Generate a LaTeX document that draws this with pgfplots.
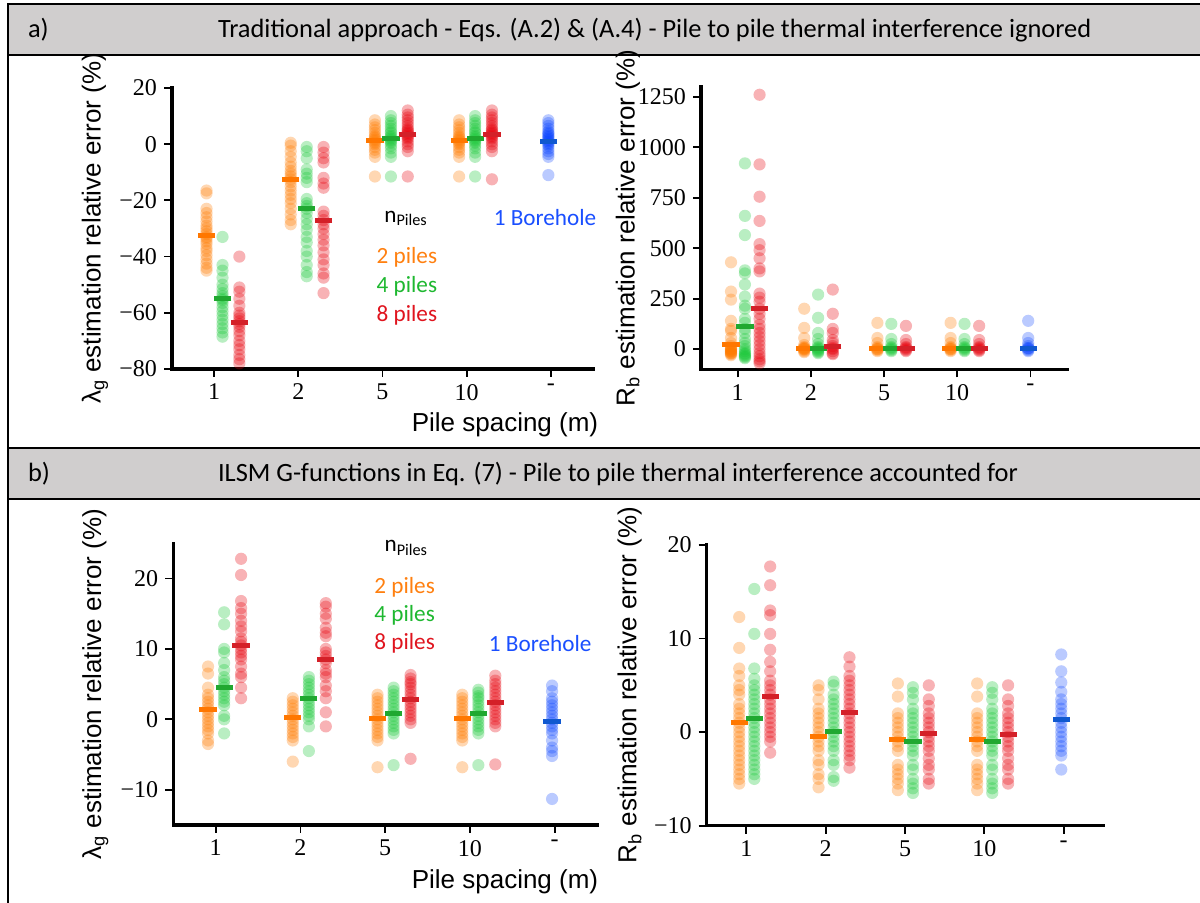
\documentclass[border=0pt]{standalone}
\usepackage{fontspec}
\setmainfont{Liberation Serif}
\setsansfont{Liberation Sans}
\newfontfamily\calib{Carlito}
\usepackage{pgfplots}
\pgfplotsset{compat=1.18}
\definecolor{cO}{HTML}{FF7C00}
\definecolor{cG}{HTML}{1AC938}
\definecolor{cR}{HTML}{E8000B}
\definecolor{cB}{HTML}{023EFF}
\definecolor{dO}{HTML}{FF7700}
\definecolor{dG}{HTML}{20A830}
\definecolor{dR}{HTML}{D42028}
\definecolor{dB}{HTML}{1058D0}
\definecolor{tO}{HTML}{FF8010}
\definecolor{tG}{HTML}{1EB830}
\definecolor{tR}{HTML}{E0141E}
\definecolor{tB}{HTML}{1A4FFF}
\definecolor{hdr}{HTML}{D0CECE}
\pgfplotsset{
  stripax/.style={scale only axis, anchor=south west, clip=false,
    axis x line*=bottom, axis y line*=left,
    axis line style={-, line width=1.6pt, line cap=rect},
    tick align=outside, major tick length=4pt,
    tick style={line width=0.9pt, black},
    xmin=-0.5, xmax=4.5, xtick={0,1,2,3,4}, xticklabels={1,2,5,10,-},
    tick label style={font=\fontsize{12}{14}\selectfont},
    ylabel style={font=\sffamily\fontsize{13}{15}\selectfont, anchor=center},
  },
  pO/.style={only marks, mark=*, mark size=3.05pt, color=cO, mark options={draw opacity=0, line width=0pt, fill=cO, fill opacity=0.3}},
  pG/.style={only marks, mark=*, mark size=3.05pt, color=cG, mark options={draw opacity=0, line width=0pt, fill=cG, fill opacity=0.3}},
  pR/.style={only marks, mark=*, mark size=3.05pt, color=cR, mark options={draw opacity=0, line width=0pt, fill=cR, fill opacity=0.3}},
  pB/.style={only marks, mark=*, mark size=3.05pt, color=cB, mark options={draw opacity=0, line width=0pt, fill=cB, fill opacity=0.27}},
  mO/.style={only marks, mark=-, mark size=4.3pt, color=dO, mark options={line width=2.5pt, draw=dO}},
  mG/.style={only marks, mark=-, mark size=4.3pt, color=dG, mark options={line width=2.5pt, draw=dG}},
  mR/.style={only marks, mark=-, mark size=4.3pt, color=dR, mark options={line width=2.5pt, draw=dR}},
  mB/.style={only marks, mark=-, mark size=4.3pt, color=dB, mark options={line width=2.5pt, draw=dB}},
}
\newcommand{\lbl}{\calib\fontsize{11.6}{13}\selectfont}
\newcommand{\hdrf}{\calib\fontsize{13.2}{15}\selectfont}
\begin{document}
\begin{tikzpicture}
\useasboundingbox (0,0) rectangle (600pt,451.5pt);
\fill[white] (0,0) rectangle (600pt,451.5pt);
\begin{scope}[x=0.5pt, y=-0.5pt, yshift=451.5pt]
  % header a
  \fill[hdr] (8,4) rectangle (1210,55);
  \draw[line width=1pt] (1210,4) -- (8,4) -- (8,55) -- (1210,55);
  \node[anchor=west, font=\hdrf] at (21,30) {a)};
  \node[anchor=west, font=\hdrf] at (211,30) {Traditional approach - Eqs. (A.2) \& (A.4) - Pile to pile thermal interference ignored};
  % header b
  \fill[hdr] (8,448) rectangle (1210,499);
  \draw[line width=1pt] (1210,448) -- (8,448) -- (8,499) -- (1210,499);
  \node[anchor=west, font=\hdrf] at (21,474) {b)};
  \node[anchor=west, font=\hdrf] at (211,474) {ILSM G-functions in Eq. (7) - Pile to pile thermal interference accounted for};
  % left border
  \draw[line width=1pt] (8,4) -- (8,905);
  % x labels
  \node[font=\sffamily\fontsize{13}{15}\selectfont] at (505,425) {Pile spacing (m)};
  \node[font=\sffamily\fontsize{13}{15}\selectfont] at (505,882) {Pile spacing (m)};
\end{scope}

% ---------------- Panel a, left ----------------
\begin{axis}[stripax, at={(86pt,267pt)}, width=210.5pt, height=140.5pt,
  ymin=-80, ymax=20, ytick={-80,-60,-40,-20,0,20},
  yticklabels={−80,−60,−40,−20,0,20},
  ylabel={λ\textsubscript{g} estimation relative error (\%)},
  ylabel style={at={(axis description cs:-0.183,0.5)}}]
\addplot[pO] coordinates {(-0.09,-16.5)(-0.09,-17.5)(-0.09,-23)(-0.09,-24.5)(-0.09,-26)(-0.09,-27.5)(-0.09,-29)(-0.09,-30)(-0.09,-31)(-0.09,-32)(-0.09,-33)(-0.09,-33.5)(-0.09,-34.5)(-0.09,-35.5)(-0.09,-37)(-0.09,-38)(-0.09,-39.5)(-0.09,-41)(-0.09,-42.5)(-0.09,-44)(-0.09,-45)
 (0.91,0.5)(0.91,-0.5)(0.91,-2.5)(0.91,-4.5)(0.91,-6.5)(0.91,-8)(0.91,-9.5)(0.91,-10.5)(0.91,-11.5)(0.91,-12.5)(0.91,-13.5)(0.91,-15)(0.91,-16.5)(0.91,-18)(0.91,-19.5)(0.91,-21)(0.91,-23)(0.91,-25)(0.91,-27)(0.91,-28.5)
 (1.91,8.5)(1.91,7)(1.91,6)(1.91,5)(1.91,4)(1.91,3)(1.91,2.5)(1.91,2)(1.91,1.5)(1.91,1)(1.91,0.5)(1.91,0)(1.91,-1)(1.91,-2)(1.91,-3)(1.91,-4.5)(1.91,-11.5)
 (2.91,8.5)(2.91,7)(2.91,6)(2.91,5)(2.91,4)(2.91,3)(2.91,2.5)(2.91,2)(2.91,1.5)(2.91,1)(2.91,0.5)(2.91,0)(2.91,-1)(2.91,-2)(2.91,-3)(2.91,-4.5)(2.91,-11.5)};
\addplot[pG] coordinates {(0.1,-33)(0.1,-43)(0.1,-45)(0.1,-47.5)(0.1,-50)(0.1,-51.5)(0.1,-53)(0.1,-54)(0.1,-55)(0.1,-55.5)(0.1,-56.5)(0.1,-58)(0.1,-59.5)(0.1,-61)(0.1,-62.5)(0.1,-64)(0.1,-65.5)(0.1,-67)(0.1,-68.5)
 (1.1,-1)(1.1,-2.5)(1.1,-5)(1.1,-9)(1.1,-10.5)(1.1,-12)(1.1,-13.5)(1.1,-19.5)(1.1,-21)(1.1,-22)(1.1,-23)(1.1,-24.5)(1.1,-26.5)(1.1,-28.5)(1.1,-30.5)(1.1,-33)(1.1,-35)(1.1,-38)(1.1,-40)(1.1,-43)(1.1,-45.5)(1.1,-47)
 (2.1,10)(2.1,8.5)(2.1,7.5)(2.1,6.5)(2.1,5.5)(2.1,4.5)(2.1,4)(2.1,3)(2.1,2.5)(2.1,2)(2.1,1.5)(2.1,1)(2.1,0.5)(2.1,-0.5)(2.1,-1.5)(2.1,-3)(2.1,-4.5)(2.1,-11.5)
 (3.1,10)(3.1,8.5)(3.1,7.5)(3.1,6.5)(3.1,5.5)(3.1,4.5)(3.1,4)(3.1,3)(3.1,2.5)(3.1,2)(3.1,1.5)(3.1,1)(3.1,0.5)(3.1,-0.5)(3.1,-1.5)(3.1,-3)(3.1,-4.5)(3.1,-11.5)};
\addplot[pR] coordinates {(0.3,-40)(0.3,-51)(0.3,-52.5)(0.3,-55)(0.3,-57.5)(0.3,-60)(0.3,-61)(0.3,-62)(0.3,-63)(0.3,-64)(0.3,-65)(0.3,-66.5)(0.3,-68)(0.3,-70)(0.3,-71.5)(0.3,-73)(0.3,-75)(0.3,-76.5)(0.3,-78)
 (1.3,-1)(1.3,-3)(1.3,-5)(1.3,-6.5)(1.3,-12)(1.3,-14)(1.3,-15.5)(1.3,-24)(1.3,-25.5)(1.3,-27)(1.3,-28.5)(1.3,-30)(1.3,-32)(1.3,-34)(1.3,-36)(1.3,-38.5)(1.3,-41)(1.3,-43)(1.3,-46)(1.3,-47.5)(1.3,-53)
 (2.3,12)(2.3,10.5)(2.3,9.5)(2.3,8.5)(2.3,7.5)(2.3,6.5)(2.3,5.5)(2.3,5)(2.3,4.5)(2.3,4)(2.3,3.5)(2.3,3)(2.3,2.5)(2.3,2)(2.3,1)(2.3,0)(2.3,-1)(2.3,-2.5)(2.3,-11.5)
 (3.3,12)(3.3,10.5)(3.3,9.5)(3.3,8.5)(3.3,7.5)(3.3,6.5)(3.3,5.5)(3.3,5)(3.3,4.5)(3.3,4)(3.3,3.5)(3.3,3)(3.3,2.5)(3.3,2)(3.3,1)(3.3,0)(3.3,-1)(3.3,-2.5)(3.3,-12.5)};
\addplot[pB] coordinates {(3.97,8.5)(3.97,7.5)(3.97,6.5)(3.97,5.5)(3.97,4.5)(3.97,4)(3.97,3.5)(3.97,3)(3.97,2.5)(3.97,2)(3.97,1.5)(3.97,1)(3.97,0.5)(3.97,0)(3.97,-0.5)(3.97,-1.5)(3.97,-2.5)(3.97,-3.5)(3.97,-4.5)(3.97,-11)};
\addplot[mO] coordinates {(-0.09,-32.5)(0.91,-12.5)(1.91,1.2)(2.91,1.2)};
\addplot[mG] coordinates {(0.1,-55)(1.1,-23)(2.1,1.9)(3.1,2)};
\addplot[mR] coordinates {(0.3,-63.5)(1.3,-27)(2.3,3.5)(3.3,3.5)};
\addplot[mB] coordinates {(3.97,1.1)};
\node[font=\lbl] at (axis cs:2.28,-26.4) {n\textsubscript{Piles}};
\node[font=\lbl, text=tO] at (axis cs:2.29,-40.4) {2 piles};
\node[font=\lbl, text=tG] at (axis cs:2.29,-50.5) {4 piles};
\node[font=\lbl, text=tR] at (axis cs:2.29,-60.8) {8 piles};
\node[font=\lbl, text=tB] at (axis cs:3.93,-26.2) {1 Borehole};
\end{axis}

% ---------------- Panel a, right ----------------
\begin{axis}[stripax, at={(350.5pt,266.85pt)}, width=183pt, height=141.3pt,
  ymin=-100, ymax=1300, ytick={0,250,500,750,1000,1250},
  yticklabels={0,250,500,750,1000,1250},
  ylabel={R\textsubscript{b} estimation relative error (\%)},
  ylabel style={at={(axis description cs:-0.2,0.5)}}]
\addplot[pO] coordinates {(-0.09,430)(-0.09,285)(-0.09,245)(-0.09,140)(-0.09,100)(-0.09,90)(-0.09,55)(-0.09,30)(-0.09,15)(-0.09,5)(-0.09,0)(-0.09,-5)(-0.09,-10)(-0.09,-15)(-0.09,-20)(-0.09,-25)(-0.09,-30)(-0.09,-10)(-0.09,0)(-0.09,-20)
 (0.91,200)(0.91,105)(0.91,55)(0.91,20)(0.91,10)(0.91,5)(0.91,0)(0.91,0)(0.91,-5)(0.91,-10)(0.91,-15)(0.91,5)
 (1.91,130)(1.91,55)(1.91,30)(1.91,10)(1.91,5)(1.91,0)(1.91,-5)(1.91,-10)(1.91,0)
 (2.91,130)(2.91,55)(2.91,30)(2.91,10)(2.91,5)(2.91,0)(2.91,-5)(2.91,-10)(2.91,0)};
\addplot[pG] coordinates {(0.1,920)(0.1,660)(0.1,565)(0.1,390)(0.1,375)(0.1,320)(0.1,260)(0.1,215)(0.1,200)(0.1,150)(0.1,130)(0.1,100)(0.1,80)(0.1,50)(0.1,30)(0.1,15)(0.1,0)(0.1,-10)(0.1,-20)(0.1,-25)(0.1,-30)(0.1,-35)(0.1,-40)(0.1,-45)
 (1.1,270)(1.1,155)(1.1,80)(1.1,50)(1.1,25)(1.1,10)(1.1,5)(1.1,0)(1.1,-5)(1.1,-10)(1.1,-15)(1.1,-20)
 (2.1,125)(2.1,50)(2.1,25)(2.1,10)(2.1,5)(2.1,0)(2.1,-5)(2.1,-10)
 (3.1,125)(3.1,50)(3.1,25)(3.1,10)(3.1,5)(3.1,0)(3.1,-5)(3.1,-10)};
\addplot[pR] coordinates {(0.3,1260)(0.3,915)(0.3,755)(0.3,635)(0.3,520)(0.3,490)(0.3,450)(0.3,400)(0.3,385)(0.3,275)(0.3,255)(0.3,235)(0.3,200)(0.3,175)(0.3,150)(0.3,120)(0.3,100)(0.3,80)(0.3,60)(0.3,40)(0.3,20)(0.3,0)(0.3,-20)(0.3,-35)(0.3,-50)(0.3,-60)(0.3,-70)
 (1.3,295)(1.3,175)(1.3,100)(1.3,80)(1.3,45)(1.3,30)(1.3,15)(1.3,5)(1.3,0)(1.3,-10)(1.3,-20)(1.3,-25)
 (2.3,115)(2.3,45)(2.3,25)(2.3,10)(2.3,5)(2.3,0)(2.3,-5)(2.3,-10)
 (3.3,115)(3.3,45)(3.3,25)(3.3,10)(3.3,5)(3.3,0)(3.3,-5)(3.3,-10)};
\addplot[pB] coordinates {(3.97,140)(3.97,55)(3.97,30)(3.97,15)(3.97,5)(3.97,0)(3.97,-5)(3.97,-10)(3.97,5)};
\addplot[mO] coordinates {(-0.09,25)(0.91,3)(1.91,3)(2.91,3)};
\addplot[mG] coordinates {(0.1,110)(1.1,3)(2.1,3)(3.1,3)};
\addplot[mR] coordinates {(0.3,200)(1.3,12)(2.3,3)(3.3,3)};
\addplot[mB] coordinates {(3.97,5)};
\end{axis}

% ---------------- Panel b, left ----------------
\begin{axis}[stripax, at={(86.65pt,39pt)}, width=211.85pt, height=140.85pt,
  ymin=-15, ymax=25, ytick={-10,0,10,20},
  yticklabels={−10,0,10,20},
  ylabel={λ\textsubscript{g} estimation relative error (\%)},
  ylabel style={at={(axis description cs:-0.184,0.5)}}]
\addplot[pO] coordinates {(-0.09,7.5)(-0.09,6.5)(-0.09,4.5)(-0.09,3.5)(-0.09,3)(-0.09,2.5)(-0.09,2)(-0.09,1.5)(-0.09,1)(-0.09,0.5)(-0.09,0)(-0.09,-0.5)(-0.09,-1)(-0.09,-1.5)(-0.09,-2)(-0.09,-3)(-0.09,-3.5)
 (0.91,3)(0.91,2.5)(0.91,2)(0.91,1.5)(0.91,1)(0.91,0.5)(0.91,0)(0.91,-0.5)(0.91,-1)(0.91,-1.5)(0.91,-2)(0.91,-2.5)(0.91,-3)(0.91,-6)
 (1.91,3.5)(1.91,3)(1.91,2.5)(1.91,2)(1.91,1.5)(1.91,1)(1.91,0.5)(1.91,0)(1.91,-0.5)(1.91,-1)(1.91,-1.5)(1.91,-2)(1.91,-2.5)(1.91,-3)(1.91,-6.8)
 (2.91,3.5)(2.91,3)(2.91,2.5)(2.91,2)(2.91,1.5)(2.91,1)(2.91,0.5)(2.91,0)(2.91,-0.5)(2.91,-1)(2.91,-1.5)(2.91,-2)(2.91,-2.5)(2.91,-3)(2.91,-6.8)};
\addplot[pG] coordinates {(0.1,15.2)(0.1,13.5)(0.1,10)(0.1,9.5)(0.1,8)(0.1,7)(0.1,6)(0.1,5.5)(0.1,5)(0.1,4.5)(0.1,4)(0.1,3.5)(0.1,3)(0.1,2.5)(0.1,2)(0.1,0.5)(0.1,0)(0.1,-2)
 (1.1,6)(1.1,5.5)(1.1,5)(1.1,4.5)(1.1,4)(1.1,3.5)(1.1,3)(1.1,2.5)(1.1,2)(1.1,1.5)(1.1,1)(1.1,0.5)(1.1,0)(1.1,-1)(1.1,-4.5)
 (2.1,4.5)(2.1,4)(2.1,3.5)(2.1,3)(2.1,2.5)(2.1,2)(2.1,1.5)(2.1,1)(2.1,0.5)(2.1,0)(2.1,-0.5)(2.1,-1)(2.1,-1.5)(2.1,-2)(2.1,-6.5)
 (3.1,4.2)(3.1,3.8)(3.1,3.3)(3.1,3)(3.1,2.5)(3.1,2)(3.1,1.5)(3.1,1)(3.1,0.5)(3.1,0)(3.1,-0.5)(3.1,-1)(3.1,-1.5)(3.1,-2)(3.1,-6.5)};
\addplot[pR] coordinates {(0.3,22.8)(0.3,20.5)(0.3,16.8)(0.3,15.8)(0.3,15)(0.3,14)(0.3,13.2)(0.3,12.5)(0.3,11.5)(0.3,11)(0.3,10.5)(0.3,10)(0.3,9.5)(0.3,9)(0.3,8.5)(0.3,7.5)(0.3,6.5)(0.3,6)(0.3,4.5)(0.3,3)
 (1.3,16.5)(1.3,16)(1.3,15)(1.3,14.3)(1.3,13)(1.3,12.3)(1.3,11.8)(1.3,10)(1.3,9.5)(1.3,9)(1.3,8.5)(1.3,8)(1.3,7)(1.3,6.5)(1.3,6)(1.3,4.8)(1.3,4)(1.3,3)(1.3,1)(1.3,-1)
 (2.3,6.3)(2.3,5.8)(2.3,5.3)(2.3,5)(2.3,4.5)(2.3,4)(2.3,3.5)(2.3,3)(2.3,2.5)(2.3,2)(2.3,1.5)(2.3,1)(2.3,0.5)(2.3,0)(2.3,-0.5)(2.3,-5.6)
 (3.3,6.2)(3.3,5.5)(3.3,5)(3.3,4.5)(3.3,4)(3.3,3.5)(3.3,3)(3.3,2.5)(3.3,2)(3.3,1.5)(3.3,1)(3.3,0.5)(3.3,0)(3.3,-0.5)(3.3,-1)(3.3,-6.4)};
\addplot[pB] coordinates {(3.97,4.8)(3.97,4)(3.97,3)(3.97,2.5)(3.97,2)(3.97,1.5)(3.97,1)(3.97,0.5)(3.97,0)(3.97,-0.5)(3.97,-1)(3.97,-1.5)(3.97,-2)(3.97,-3)(3.97,-4)(3.97,-4.5)(3.97,-5.2)(3.97,-11.3)};
\addplot[mO] coordinates {(-0.09,1.4)(0.91,0.2)(1.91,0.1)(2.91,0.1)};
\addplot[mG] coordinates {(0.1,4.5)(1.1,2.9)(2.1,0.9)(3.1,0.8)};
\addplot[mR] coordinates {(0.3,10.5)(1.3,8.5)(2.3,2.8)(3.3,2.4)};
\addplot[mB] coordinates {(3.97,-0.3)};
\node[font=\lbl] at (axis cs:2.25,24.3) {n\textsubscript{Piles}};
\node[font=\lbl, text=tO] at (axis cs:2.23,18.8) {2 piles};
\node[font=\lbl, text=tG] at (axis cs:2.23,14.8) {4 piles};
\node[font=\lbl, text=tR] at (axis cs:2.23,10.8) {8 piles};
\node[font=\lbl, text=tB] at (axis cs:3.83,10.7) {1 Borehole};
\end{axis}

% ---------------- Panel b, right ----------------
\begin{axis}[stripax, at={(353.35pt,38.65pt)}, width=198.3pt, height=140.35pt,
  ymin=-10, ymax=20, ytick={-10,0,10,20},
  yticklabels={−10,0,10,20},
  ylabel={R\textsubscript{b} estimation relative error (\%)},
  ylabel style={at={(axis description cs:-0.194,0.5)}}]
\addplot[pO] coordinates {(-0.09,12.3)(-0.09,9)(-0.09,6.8)(-0.09,6)(-0.09,5)(-0.09,4.5)(-0.09,4)(-0.09,3)(-0.09,2.5)(-0.09,2)(-0.09,1.5)(-0.09,1)(-0.09,0.5)(-0.09,0)(-0.09,-0.5)(-0.09,-1)(-0.09,-1.5)(-0.09,-2)(-0.09,-2.5)(-0.09,-3)(-0.09,-3.5)(-0.09,-4)(-0.09,-4.5)(-0.09,-5)(-0.09,-5.5)
 (0.91,5)(0.91,4.5)(0.91,3.5)(0.91,2.5)(0.91,2)(0.91,1.5)(0.91,1)(0.91,0.5)(0.91,0)(0.91,-0.5)(0.91,-1)(0.91,-1.5)(0.91,-2)(0.91,-3)(0.91,-3.5)(0.91,-4.5)(0.91,-5)(0.91,-5.9)
 (1.91,5.2)(1.91,3.8)(1.91,2)(1.91,1.5)(1.91,1)(1.91,0.5)(1.91,0)(1.91,-0.5)(1.91,-1)(1.91,-1.5)(1.91,-2)(1.91,-3.5)(1.91,-4)(1.91,-4.5)(1.91,-5)(1.91,-5.5)(1.91,-6.2)
 (2.91,5.2)(2.91,3.8)(2.91,2)(2.91,1.5)(2.91,1)(2.91,0.5)(2.91,0)(2.91,-0.5)(2.91,-1)(2.91,-1.5)(2.91,-2)(2.91,-3.5)(2.91,-4)(2.91,-4.5)(2.91,-5)(2.91,-5.5)(2.91,-6.2)};
\addplot[pG] coordinates {(0.1,15.3)(0.1,10.5)(0.1,6.8)(0.1,5.7)(0.1,5)(0.1,4.5)(0.1,4)(0.1,3.5)(0.1,3)(0.1,2.5)(0.1,2)(0.1,1.5)(0.1,1)(0.1,0.5)(0.1,0)(0.1,-0.5)(0.1,-1)(0.1,-1.5)(0.1,-2)(0.1,-2.5)(0.1,-3)(0.1,-3.5)(0.1,-4)(0.1,-4.5)(0.1,-5)
 (1.1,5.4)(1.1,5)(1.1,4)(1.1,3.5)(1.1,3)(1.1,2.5)(1.1,2)(1.1,1.5)(1.1,1)(1.1,0.5)(1.1,0)(1.1,-0.5)(1.1,-1)(1.1,-1.5)(1.1,-2)(1.1,-3)(1.1,-3.5)(1.1,-4.8)(1.1,-5.2)
 (2.1,4.8)(2.1,4.2)(2.1,3.5)(2.1,2.5)(2.1,2)(2.1,1.5)(2.1,1)(2.1,0.5)(2.1,0)(2.1,-0.5)(2.1,-1)(2.1,-1.5)(2.1,-2)(2.1,-2.5)(2.1,-3.5)(2.1,-4)(2.1,-5)(2.1,-5.5)(2.1,-6)(2.1,-6.5)
 (3.1,4.8)(3.1,4.2)(3.1,3.5)(3.1,2.5)(3.1,2)(3.1,1.5)(3.1,1)(3.1,0.5)(3.1,0)(3.1,-0.5)(3.1,-1)(3.1,-1.5)(3.1,-2)(3.1,-2.5)(3.1,-3.5)(3.1,-4)(3.1,-5)(3.1,-5.5)(3.1,-6)(3.1,-6.5)};
\addplot[pR] coordinates {(0.3,17.7)(0.3,15.7)(0.3,13)(0.3,12.5)(0.3,10.5)(0.3,8.8)(0.3,7.5)(0.3,6.5)(0.3,5.5)(0.3,5)(0.3,4.5)(0.3,4)(0.3,3.5)(0.3,3)(0.3,2.5)(0.3,2)(0.3,1.5)(0.3,1)(0.3,0.5)(0.3,0)(0.3,-0.5)(0.3,-1)(0.3,-2.2)
 (1.3,8)(1.3,7)(1.3,6)(1.3,5.5)(1.3,5)(1.3,4.5)(1.3,4)(1.3,3.5)(1.3,3)(1.3,2.5)(1.3,2)(1.3,1.5)(1.3,1)(1.3,0.5)(1.3,0)(1.3,-0.5)(1.3,-1)(1.3,-1.5)(1.3,-2)(1.3,-2.5)(1.3,-3)(1.3,-3.8)
 (2.3,5)(2.3,3.5)(2.3,2.8)(2.3,2)(2.3,1.5)(2.3,1)(2.3,0.5)(2.3,0)(2.3,-0.5)(2.3,-1)(2.3,-1.5)(2.3,-2)(2.3,-2.8)(2.3,-3.5)(2.3,-4)(2.3,-5)(2.3,-5.5)
 (3.3,5)(3.3,3.5)(3.3,2.8)(3.3,2)(3.3,1.5)(3.3,1)(3.3,0.5)(3.3,0)(3.3,-0.5)(3.3,-1)(3.3,-1.5)(3.3,-2)(3.3,-2.8)(3.3,-3.5)(3.3,-4)(3.3,-5)(3.3,-5.5)};
\addplot[pB] coordinates {(3.97,8.3)(3.97,6.5)(3.97,5.3)(3.97,4.3)(3.97,3.5)(3.97,3)(3.97,2.5)(3.97,2)(3.97,1.5)(3.97,1)(3.97,0.5)(3.97,0)(3.97,-0.5)(3.97,-1)(3.97,-1.5)(3.97,-2)(3.97,-2.5)(3.97,-4)};
\addplot[mO] coordinates {(-0.09,1)(0.91,-0.5)(1.91,-0.8)(2.91,-0.8)};
\addplot[mG] coordinates {(0.1,1.5)(1.1,0.1)(2.1,-1)(3.1,-1)};
\addplot[mR] coordinates {(0.3,3.8)(1.3,2.1)(2.3,-0.2)(3.3,-0.3)};
\addplot[mB] coordinates {(3.97,1.3)};
\end{axis}
\end{tikzpicture}
\end{document}
